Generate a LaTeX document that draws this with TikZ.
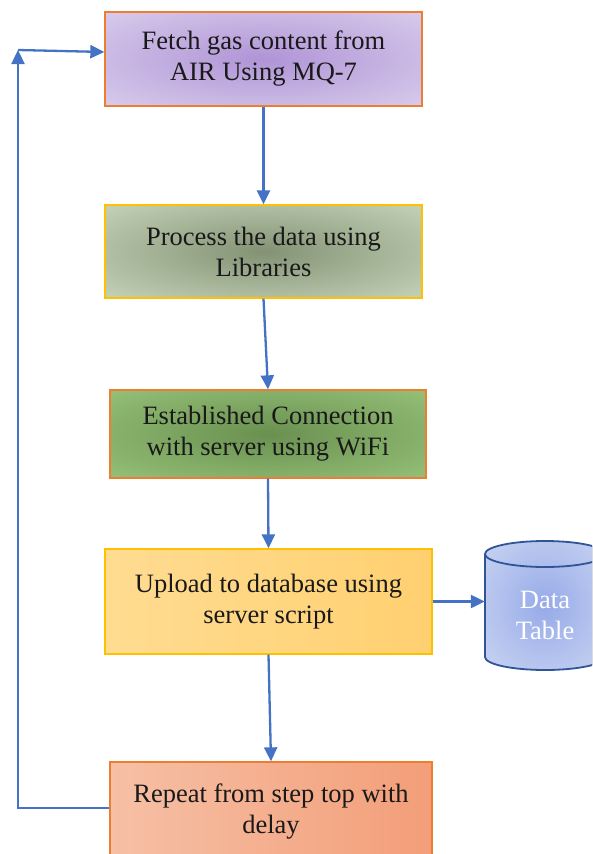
\documentclass[tikz,border=0pt]{standalone}
\usepackage{fontspec}
\setmainfont{Liberation Serif}
\usetikzlibrary{arrows.meta}
\definecolor{arrowblue}{RGB}{68,114,196}
\definecolor{borderorange}{RGB}{237,125,49}
\definecolor{bordergold}{RGB}{255,192,0}
\definecolor{cylborder}{RGB}{47,85,151}
\definecolor{txt}{RGB}{25,25,25}
\definecolor{fin}{RGB}{176,148,214}
\definecolor{fout}{RGB}{232,226,244}
\definecolor{pin}{RGB}{132,146,116}
\definecolor{pout}{RGB}{222,236,212}
\definecolor{cin}{RGB}{106,144,80}
\definecolor{cout}{RGB}{166,212,136}
\definecolor{din}{RGB}{150,170,232}
\definecolor{dout}{RGB}{222,229,246}
\pgfdeclareradialshading{fetchglow}{\pgfpoint{0bp}{0bp}}{color(0bp)=(fin); color(50bp)=(fout)}
\pgfdeclareradialshading{procglow}{\pgfpoint{0bp}{0bp}}{color(0bp)=(pin); color(50bp)=(pout)}
\pgfdeclareradialshading{connglow}{\pgfpoint{0bp}{0bp}}{color(0bp)=(cin); color(50bp)=(cout)}
\pgfdeclareradialshading{dataglow}{\pgfpoint{0bp}{0bp}}{color(0bp)=(din); color(50bp)=(dout)}
\tikzset{
  stepbox/.style={rectangle, line width=1.3pt, align=center, text=txt,
    font=\fontsize{26.5}{31}\selectfont, inner sep=0pt},
  flow/.style={draw=arrowblue, line width=2.3pt, -{Triangle[length=14pt,width=13pt]}},
}
\begin{document}
\begin{tikzpicture}[x=1pt,y=-1pt]
\useasboundingbox (0,0) rectangle (592,854);
\clip (0,0) rectangle (592,854);

\node[stepbox, draw=borderorange, minimum width=317pt, minimum height=94pt, shading=fetchglow]
  (fetch) at (263.5,59) {Fetch gas content from\\AIR Using MQ-7};

\node[stepbox, draw=bordergold, minimum width=317pt, minimum height=93pt, shading=procglow]
  (proc) at (263.5,251.5) {Process the data using\\Libraries};

\node[stepbox, draw=borderorange, minimum width=316pt, minimum height=88pt, shading=connglow]
  (conn) at (268,434) {Established Connection\\with server using WiFi};

\node[stepbox, draw=bordergold, minimum width=327pt, minimum height=105pt,
  left color={rgb,255:red,255;green,220;blue,146}, right color={rgb,255:red,255;green,208;blue,112}]
  (upl) at (268.5,601.5) {Upload to database using\\server script};

\node[stepbox, draw=borderorange, minimum width=322pt, minimum height=100pt,
  left color={rgb,255:red,246;green,192;blue,166}, right color={rgb,255:red,243;green,158;blue,120}]
  (rep) at (271,812) {Repeat from step top with\\delay};

% cylinder
\node[minimum width=120pt, minimum height=130pt, inner sep=0pt] (data) at (545,605) {};
\fill[shading=dataglow]
  (485,554) -- (485,657) arc[start angle=180,end angle=360,x radius=60,y radius=-13]
  -- (605,554) arc[start angle=0,end angle=180,x radius=60,y radius=-13] -- cycle;
\draw[cylborder, line width=1.8pt]
  (485,554) -- (485,657) arc[start angle=180,end angle=360,x radius=60,y radius=-13]
  -- (605,554) arc[start angle=0,end angle=180,x radius=60,y radius=-13] -- cycle;
\draw[cylborder, line width=1.8pt]
  (485,554) arc[start angle=180,end angle=0,x radius=60,y radius=13];
\node[align=center, text=white, font=\fontsize{26.5}{31}\selectfont, inner sep=0pt] (datatext) at (545,615) {Data\\Table};

% connectors
\draw[flow] (fetch.south) -- (proc.north);
\draw[flow] (proc.south) -- (conn.north);
\draw[flow] (conn.south) -- (upl.north);
\draw[flow] (upl.south) -- (rep.north);
\draw[flow] (upl.east) -- (upl.east -| data.west);

\coordinate (lctop) at (18,50);
\draw[flow] ([yshift=4pt]rep.west) -| (lctop);
\draw[flow] (lctop) -- ([yshift=7pt]fetch.west);
\end{tikzpicture}
\end{document}
